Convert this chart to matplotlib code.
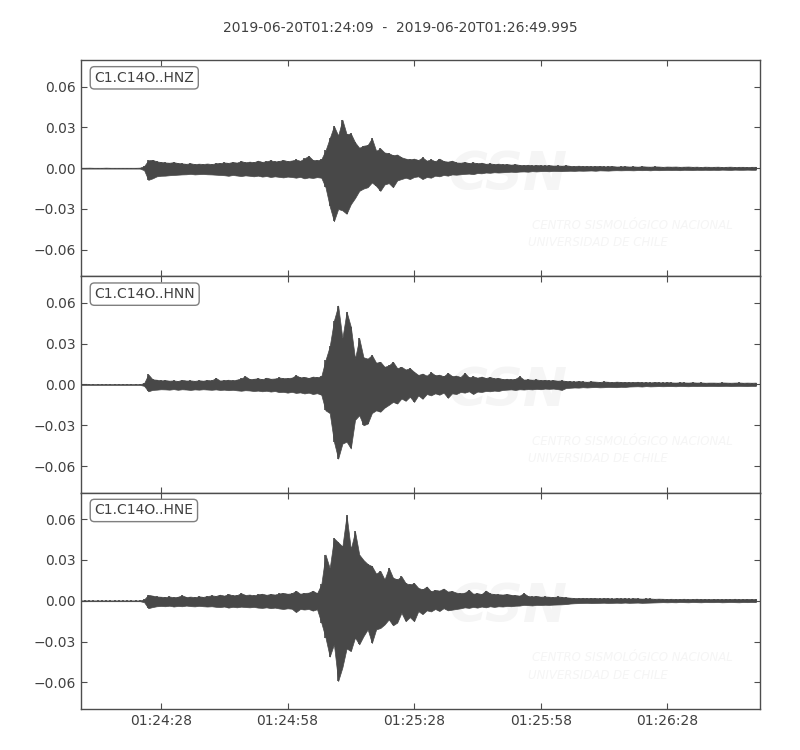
import matplotlib
matplotlib.use("Agg")
import matplotlib.pyplot as plt
import numpy as np

# tiempo en segundos desde 2019-06-20T01:24:09, una muestra por segundo (envolvente)
t_end = 160.995
seconds = np.arange(0, 161)

channels = ["C1.C14O..HNZ", "C1.C14O..HNN", "C1.C14O..HNE"]

# envolvente superior / inferior en unidades de 1e-3
hnz_up = [0.3, 0.3, 0.4, 0.3, 0.3, 0.3, 0.4, 0.3, 0.3, 0.3,
          0.3, 0.3, 0.3, 0.3, 0.4, 1.5, 5.8, 6.1, 5.0, 4.5,
          4.2, 4.0, 4.4, 3.8, 3.5, 3.2, 3.6, 3.0, 3.3, 3.1,
          3.4, 3.0, 3.6, 3.8, 4.2, 3.9, 4.5, 4.1, 5.2, 4.3,
          4.8, 4.4, 5.5, 4.6, 5.1, 5.8, 4.9, 5.3, 6.0, 5.2,
          5.6, 6.4, 5.4, 7.2, 9.0, 6.0, 5.8, 6.5, 13.0, 22.0,
          31.0, 24.0, 35.6, 25.0, 25.5, 19.0, 15.0, 16.5, 17.0, 22.0,
          12.8, 14.5, 11.5, 11.0, 9.5, 10.0, 8.0, 7.0, 6.5, 7.0,
          6.0, 7.9, 5.5, 6.5, 5.0, 7.0, 5.2, 4.8, 5.5, 4.2,
          4.0, 4.5, 3.8, 4.2, 3.6, 4.0, 3.2, 3.5, 3.0, 3.3,
          2.8, 3.0, 2.6, 2.9, 2.4, 2.2, 2.5, 2.0, 2.3, 2.1,
          2.0, 2.2, 1.9, 2.0, 1.8, 2.1, 1.7, 1.6, 1.8, 1.5,
          1.6, 1.4, 1.5, 1.6, 1.3, 1.4, 1.5, 1.2, 1.3, 1.4,
          1.2, 1.3, 1.1, 1.4, 1.2, 1.1, 1.3, 1.2, 1.0, 1.2,
          1.1, 1.2, 1.0, 1.1, 1.2, 1.0, 1.1, 0.9, 1.1, 1.0,
          1.0, 1.1, 0.9, 1.0, 1.1, 0.9, 1.0, 1.0, 0.9, 1.0, 1.0]
hnz_lo = [-0.3, -0.3, -0.3, -0.3, -0.3, -0.3, -0.3, -0.3, -0.3, -0.3,
          -0.3, -0.3, -0.3, -0.3, -0.3, -1.5, -8.6, -7.5, -6.0, -5.6,
          -5.5, -5.2, -5.0, -4.8, -4.6, -4.5, -4.2, -4.6, -4.4, -4.3,
          -4.5, -4.6, -4.8, -5.0, -5.2, -5.6, -5.0, -5.4, -5.8, -5.3,
          -5.6, -6.0, -5.5, -6.2, -5.8, -6.5, -6.0, -6.4, -6.8, -6.2,
          -6.5, -7.0, -6.4, -7.5, -6.8, -7.2, -6.6, -7.0, -14.0, -28.0,
          -39.0, -30.0, -31.0, -33.5, -26.5, -22.0, -16.7, -15.0, -14.0, -10.5,
          -13.0, -16.7, -12.0, -11.0, -14.0, -9.0, -8.0, -7.0, -8.0, -6.5,
          -6.0, -8.0, -6.5, -7.0, -5.5, -6.0, -5.0, -5.5, -4.6, -4.8,
          -4.5, -4.2, -4.0, -4.4, -3.6, -3.8, -3.2, -3.4, -3.0, -3.2,
          -3.0, -2.8, -2.6, -2.8, -2.5, -2.4, -2.6, -2.2, -2.4, -2.2,
          -2.1, -2.3, -2.0, -2.1, -2.2, -2.0, -1.9, -2.0, -1.8, -1.9,
          -1.8, -1.7, -1.9, -1.6, -1.7, -1.8, -1.6, -1.5, -1.6, -1.5,
          -1.5, -1.6, -1.4, -1.5, -1.4, -1.6, -1.3, -1.5, -1.4, -1.3,
          -1.4, -1.3, -1.5, -1.2, -1.3, -1.4, -1.2, -1.3, -1.2, -1.3,
          -1.2, -1.3, -1.1, -1.2, -1.3, -1.1, -1.2, -1.2, -1.1, -1.2, -1.2]

hnn_up = [0.3, 0.3, 0.3, 0.3, 0.3, 0.3, 0.3, 0.3, 0.3, 0.3,
          0.3, 0.3, 0.3, 0.3, 0.3, 1.0, 7.4, 3.8, 3.5, 3.0,
          3.2, 2.8, 3.0, 2.6, 3.4, 2.9, 3.0, 2.7, 3.1, 2.8,
          3.3, 3.0, 4.8, 2.9, 3.2, 3.5, 3.0, 3.6, 4.5, 6.0,
          4.0, 4.2, 4.6, 3.8, 5.0, 4.2, 4.4, 5.2, 4.6, 4.8,
          5.0, 6.8, 5.2, 5.6, 4.8, 5.8, 5.4, 6.0, 18.0, 28.0,
          47.0, 58.0, 34.0, 53.5, 42.5, 19.0, 34.0, 20.0, 19.0, 21.6,
          16.0, 16.7, 13.0, 14.0, 16.7, 12.0, 13.0, 11.0, 12.0, 9.3,
          7.0, 8.0, 6.5, 9.0, 6.8, 7.2, 6.0, 8.5, 6.2, 6.5,
          5.5, 8.5, 5.2, 6.0, 5.0, 5.8, 4.8, 5.5, 4.5, 4.8,
          4.0, 4.2, 3.8, 4.2, 6.0, 3.6, 3.8, 3.5, 3.7, 3.2,
          3.4, 3.0, 3.2, 2.8, 3.0, 2.6, 2.4, 2.2, 2.5, 2.2,
          2.0, 2.3, 2.1, 1.9, 2.2, 2.0, 1.8, 2.1, 1.9, 1.8,
          1.7, 1.8, 2.0, 1.6, 1.7, 1.5, 1.8, 1.6, 1.5, 1.7,
          1.5, 1.4, 1.6, 1.5, 1.4, 1.6, 1.4, 1.5, 1.3, 1.4,
          1.4, 1.3, 1.5, 1.4, 1.3, 1.4, 1.5, 1.3, 1.4, 1.3, 1.4]
hnn_lo = [-0.3, -0.3, -0.3, -0.3, -0.3, -0.3, -0.3, -0.3, -0.3, -0.3,
          -0.3, -0.3, -0.3, -0.3, -0.3, -1.0, -5.0, -4.0, -3.8, -3.5,
          -3.6, -3.8, -3.4, -3.9, -3.5, -3.7, -4.0, -3.6, -3.8, -3.5,
          -3.7, -3.9, -3.6, -4.0, -3.8, -4.2, -3.9, -4.3, -4.6, -4.2,
          -4.4, -4.8, -4.5, -5.0, -4.6, -5.2, -4.8, -5.6, -5.4, -6.0,
          -5.4, -6.2, -5.8, -6.6, -6.0, -7.0, -6.4, -7.5, -19.0, -21.0,
          -42.0, -54.5, -43.5, -42.0, -47.0, -26.0, -22.6, -30.0, -28.7, -21.0,
          -19.0, -20.0, -17.0, -15.0, -12.8, -14.0, -10.3, -12.0, -9.0, -12.8,
          -8.0, -10.5, -7.0, -8.0, -6.5, -7.5, -6.0, -9.8, -6.5, -7.0,
          -5.5, -6.0, -5.0, -7.0, -5.2, -5.5, -4.8, -5.0, -4.5, -4.8,
          -4.0, -3.8, -3.6, -4.0, -3.5, -3.7, -3.4, -3.6, -3.2, -3.5,
          -3.0, -3.2, -3.0, -3.4, -4.0, -2.6, -2.4, -2.2, -2.3, -2.0,
          -2.2, -2.0, -1.9, -2.1, -2.0, -1.8, -1.9, -2.0, -1.7, -1.8,
          -1.5, -1.4, -1.3, -1.5, -1.2, -1.4, -1.3, -1.2, -1.3, -1.2,
          -1.2, -1.3, -1.1, -1.2, -1.3, -1.1, -1.2, -1.1, -1.2, -1.1,
          -1.1, -1.2, -1.1, -1.0, -1.2, -1.1, -1.0, -1.1, -1.2, -1.0, -1.1]

hne_up = [0.3, 0.3, 0.3, 0.3, 0.3, 0.3, 0.3, 0.3, 0.3, 0.3,
          0.3, 0.3, 0.3, 0.3, 0.3, 1.0, 4.4, 3.8, 3.2, 3.0,
          2.8, 3.2, 2.6, 3.0, 4.0, 2.8, 3.1, 2.7, 3.3, 2.9,
          3.5, 4.0, 3.6, 4.5, 3.8, 5.0, 4.0, 4.2, 5.6, 4.3,
          4.6, 4.0, 4.8, 5.2, 4.4, 5.0, 4.6, 5.4, 5.8, 5.2,
          5.5, 7.4, 5.2, 5.8, 6.0, 7.4, 5.6, 12.0, 34.0, 24.0,
          46.0, 43.0, 40.0, 63.0, 38.0, 51.0, 34.0, 30.0, 27.0, 25.5,
          20.0, 22.0, 15.7, 24.3, 17.0, 15.7, 18.0, 13.0, 12.0, 13.0,
          9.5, 8.4, 10.5, 7.0, 8.0, 7.5, 9.0, 6.8, 7.2, 6.0,
          5.6, 6.0, 8.0, 5.2, 5.6, 5.0, 7.5, 5.4, 5.0, 4.8,
          4.6, 5.0, 4.4, 4.2, 3.8, 5.6, 3.5, 3.2, 3.6, 3.0,
          3.2, 3.0, 2.8, 3.2, 2.9, 2.6, 2.3, 2.1, 2.0, 2.2,
          1.9, 2.1, 2.0, 1.8, 2.0, 1.9, 1.7, 2.0, 1.8, 1.9,
          1.7, 1.9, 1.8, 1.6, 1.8, 1.7, 1.5, 1.6, 1.5, 1.4,
          1.5, 1.3, 1.4, 1.5, 1.3, 1.4, 1.5, 1.3, 1.4, 1.2,
          1.4, 1.3, 1.2, 1.4, 1.3, 1.5, 1.2, 1.3, 1.4, 1.3, 1.3]
hne_lo = [-0.3, -0.3, -0.3, -0.3, -0.3, -0.3, -0.3, -0.3, -0.3, -0.3,
          -0.3, -0.3, -0.3, -0.3, -0.3, -1.0, -5.4, -4.6, -4.0, -3.8,
          -4.0, -3.6, -4.2, -3.8, -4.0, -3.5, -3.9, -4.1, -3.7, -4.0,
          -4.2, -4.0, -4.4, -4.6, -4.2, -5.0, -4.4, -4.8, -4.3, -4.6,
          -4.8, -4.5, -5.0, -5.2, -4.8, -5.4, -5.0, -5.6, -6.0, -5.5,
          -5.8, -8.3, -6.0, -6.4, -6.0, -7.2, -6.2, -16.0, -27.0, -41.0,
          -32.0, -59.0, -49.0, -35.0, -37.0, -27.0, -32.0, -26.0, -21.0, -31.0,
          -21.0, -20.0, -17.4, -13.7, -18.0, -16.0, -8.8, -15.0, -12.0, -15.0,
          -7.6, -9.8, -7.0, -7.8, -6.0, -7.5, -5.4, -7.0, -6.5, -6.0,
          -5.5, -4.8, -5.2, -4.5, -5.0, -4.2, -4.8, -4.0, -4.5, -4.0,
          -4.2, -3.8, -4.0, -3.6, -3.5, -3.0, -3.2, -3.4, -3.0, -3.1,
          -2.9, -3.0, -2.8, -2.7, -2.6, -2.4, -2.0, -1.8, -1.7, -1.6,
          -1.5, -1.7, -1.6, -1.5, -1.4, -1.6, -1.5, -1.4, -1.5, -1.3,
          -1.5, -1.4, -1.3, -1.5, -1.4, -1.3, -1.2, -1.1, -1.0, -1.1,
          -1.0, -1.1, -0.9, -1.0, -1.1, -0.9, -1.0, -1.1, -0.9, -1.0,
          -1.0, -0.9, -1.1, -1.0, -0.9, -1.0, -1.1, -0.9, -1.0, -0.9, -1.0]

uppers = [hnz_up, hnn_up, hne_up]
lowers = [hnz_lo, hnn_lo, hne_lo]

xtick_pos = [19, 49, 79, 109, 139]
xtick_labels = ["01:24:28", "01:24:58", "01:25:28", "01:25:58", "01:26:28"]
ytick_pos = [-0.06, -0.03, 0.0, 0.03, 0.06]
ytick_labels = ["\u22120.06", "\u22120.03", "0.00", "0.03", "0.06"]

title = "2019-06-20T01:24:09  -  2019-06-20T01:26:49.995"

trace_col = "#484848"
axis_col = "#4d4d4d"
text_col = "#404040"
wm_col = "#f5f5f5"

fig, axes = plt.subplots(3, 1, figsize=(8, 7.5), dpi=100, sharex=True)
fig.subplots_adjust(left=0.101, right=0.95, top=0.92, bottom=0.0547, hspace=0)

for ax, name, up, lo in zip(axes, channels, uppers, lowers):
    up = np.array(up) * 1e-3
    lo = np.array(lo) * 1e-3

    # marca de agua (CSN)
    ax.text(0.629, 0.47, "CSN", transform=ax.transAxes, ha="center", va="center",
            fontsize=38, fontweight="bold", style="italic", color=wm_col, zorder=0,
            clip_on=True)
    ax.text(0.664, 0.236, "CENTRO SISMOLÓGICO NACIONAL", transform=ax.transAxes,
            ha="left", va="center", fontsize=8.5, style="italic", color=wm_col,
            zorder=0, clip_on=True)
    ax.text(0.658, 0.157, "UNIVERSIDAD DE CHILE", transform=ax.transAxes,
            ha="left", va="center", fontsize=8.5, style="italic", color=wm_col,
            zorder=0, clip_on=True)

    # traza: maximo y minimo de cada segundo
    ax.fill_between(seconds, lo, up, color=trace_col, lw=0.5, zorder=2)
    ax.vlines(seconds, lo, up, color=trace_col, lw=1.2, zorder=2)

    ax.set_xlim(0, t_end)
    ax.set_ylim(-0.0795, 0.0795)
    ax.set_yticks(ytick_pos)
    ax.set_yticklabels(ytick_labels)
    ax.set_xticks(xtick_pos)
    ax.set_xticklabels(xtick_labels)
    ax.tick_params(direction="in", top=True, right=True, length=4, width=0.8,
                   color=axis_col, labelcolor=text_col, labelsize=10)
    for sp in ax.spines.values():
        sp.set_color(axis_col)
        sp.set_linewidth(1.0)

    ax.text(0.02, 0.95, name, transform=ax.transAxes, ha="left", va="top",
            fontsize=10, color=text_col, zorder=5,
            bbox=dict(boxstyle="round,pad=0.3", fc="white", ec="#7f7f7f", lw=1.0))

for ax in axes[:-1]:
    ax.tick_params(labelbottom=False)

fig.suptitle(title, y=0.972, fontsize=10, color=text_col)

plt.savefig("out.png", dpi=100)
